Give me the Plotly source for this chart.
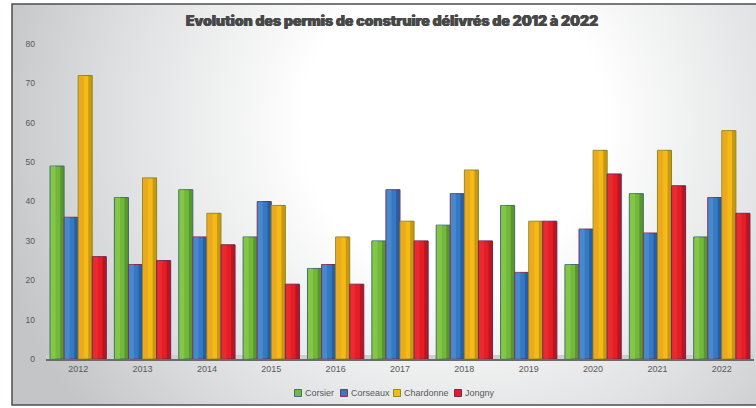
import base64
import plotly.graph_objects as go

years = ["2012", "2013", "2014", "2015", "2016", "2017", "2018", "2019", "2020", "2021", "2022"]
corsier = [49, 41, 43, 31, 23, 30, 34, 39, 24, 42, 31]
corseaux = [36, 24, 31, 40, 24, 43, 42, 22, 33, 32, 41]
chardonne = [72, 46, 37, 39, 31, 35, 48, 35, 53, 53, 58]
jongny = [26, 25, 29, 19, 19, 30, 30, 35, 47, 44, 37]
names = ["Corsier", "Corseaux", "Chardonne", "Jongny"]
values = [corsier, corseaux, chardonne, jongny]

# styles: base colour, outline, left tint, right tint
styles = [
    ("#72b83b", "#41707a", "rgba(150,210,80,0.55)", "rgba(40,90,30,0.35)"),
    ("#3479c2", "#8a3050", "rgba(90,150,215,0.55)", "rgba(20,50,110,0.35)"),
    ("#f4bb16", "#8d8a28", "rgba(225,155,40,0.55)", "rgba(120,90,10,0.35)"),
    ("#e51d25", "#6e2a5a", "rgba(240,60,60,0.45)", "rgba(110,10,30,0.35)"),
]
legend_px = [298, 344, 397, 458]

W, H = 756, 408
ml, mr, mt, mb = 46, 2, 44, 49
pw, ph = W - ml - mr, H - mt - mb

def px2x(px):
    return (px - ml) / pw

def py2y(py):
    return (H - mb - py) / ph

svg = """<svg xmlns='http://www.w3.org/2000/svg' width='744' height='402' viewBox='0 0 744 402' preserveAspectRatio='none'>
<defs><radialGradient id='g' gradientUnits='userSpaceOnUse' cx='440' cy='120' r='470'>
<stop offset='0' stop-color='#ffffff'/><stop offset='0.32' stop-color='#ffffff'/>
<stop offset='0.7' stop-color='#e0e1e2'/><stop offset='1' stop-color='#c3c5c6'/></radialGradient></defs>
<rect width='744' height='402' fill='url(#g)'/></svg>"""
src = "data:image/svg+xml;base64," + base64.b64encode(svg.encode()).decode()

gap = 0.125
bw = (1 - gap) / len(values)
fig = go.Figure()
for i, (name, vals) in enumerate(zip(names, values)):
    col, edge, lt, rt = styles[i]
    off = -(1 - gap) / 2 + i * bw
    fig.add_trace(go.Bar(
        x=years, y=vals, name=name, offset=off, width=bw, showlegend=False,
        marker=dict(color=col, line=dict(color=edge, width=1)),
    ))
    fig.add_trace(go.Bar(
        x=years, y=vals, name=name, offset=off + 0.01, width=bw * 0.35, showlegend=False,
        marker=dict(color=lt, line=dict(width=0)), hoverinfo="skip",
    ))
    fig.add_trace(go.Bar(
        x=years, y=vals, name=name, offset=off + bw * 0.72, width=bw * 0.26, showlegend=False,
        marker=dict(color=rt, line=dict(width=0)), hoverinfo="skip",
    ))

fx0, fx1 = px2x(12), px2x(758)
fy0, fy1 = py2y(405), py2y(4)

shapes = [
    dict(type="rect", xref="paper", yref="paper", x0=0, x1=1, y0=0, y1=py2y(355),
         fillcolor="#cfcfcf", line=dict(width=0), layer="below"),
    dict(type="rect", xref="paper", yref="paper", x0=fx0, x1=fx1, y0=fy0, y1=fy1,
         line=dict(color="#4d4d4d", width=1.5), layer="above"),
]
annotations = []
for i, name in enumerate(names):
    cx = legend_px[i]
    shapes.append(dict(
        type="rect", xref="paper", yref="paper",
        x0=px2x(cx - 3.5), x1=px2x(cx + 3.5), y0=py2y(396.5), y1=py2y(389.5),
        fillcolor=styles[i][0], line=dict(color=styles[i][1], width=1), layer="above",
    ))
    annotations.append(dict(
        text=name, xref="paper", yref="paper", x=px2x(cx + 5), y=py2y(393),
        xanchor="left", yanchor="middle", showarrow=False,
        font=dict(family="Liberation Sans, Arial", size=9, color="#595959"),
    ))

fig.update_layout(
    width=W, height=H,
    margin=dict(l=ml, r=mr, t=mt, b=mb),
    paper_bgcolor="white",
    plot_bgcolor="rgba(0,0,0,0)",
    barmode="overlay",
    showlegend=False,
    title=dict(
        text="Evolution des permis de construire délivrés de 2012 à 2022",
        x=392 / W, xanchor="center", y=1 - 21 / H, yanchor="middle",
        font=dict(family="Inter, Liberation Sans, Arial", size=14, color="#484848", weight=900,
                  shadow="0.4px 0 0 #484848, -0.4px 0 0 #484848"),
    ),
    font=dict(family="Liberation Sans, Arial", color="#595959"),
    xaxis=dict(
        showgrid=False, showline=True, linecolor="#6b6b6b", linewidth=2,
        ticks="", tickfont=dict(size=9, color="#595959"), automargin=False,
        ticklabelstandoff=0,
    ),
    yaxis=dict(
        range=[0, 80], dtick=10, showgrid=False, zeroline=False, showline=False,
        ticks="", tickfont=dict(size=8.5, color="#595959"), ticklabelstandoff=10,
        automargin=False,
    ),
    images=[dict(
        source=src, xref="paper", yref="paper",
        x=fx0, y=fy1, sizex=fx1 - fx0, sizey=fy1 - fy0,
        xanchor="left", yanchor="top", sizing="stretch", layer="below",
    )],
    shapes=shapes,
    annotations=annotations,
)

fig.write_html("out.html", config={"displayModeBar": False},
               post_script="document.body.style.margin='0px';document.body.style.overflow='hidden';")
